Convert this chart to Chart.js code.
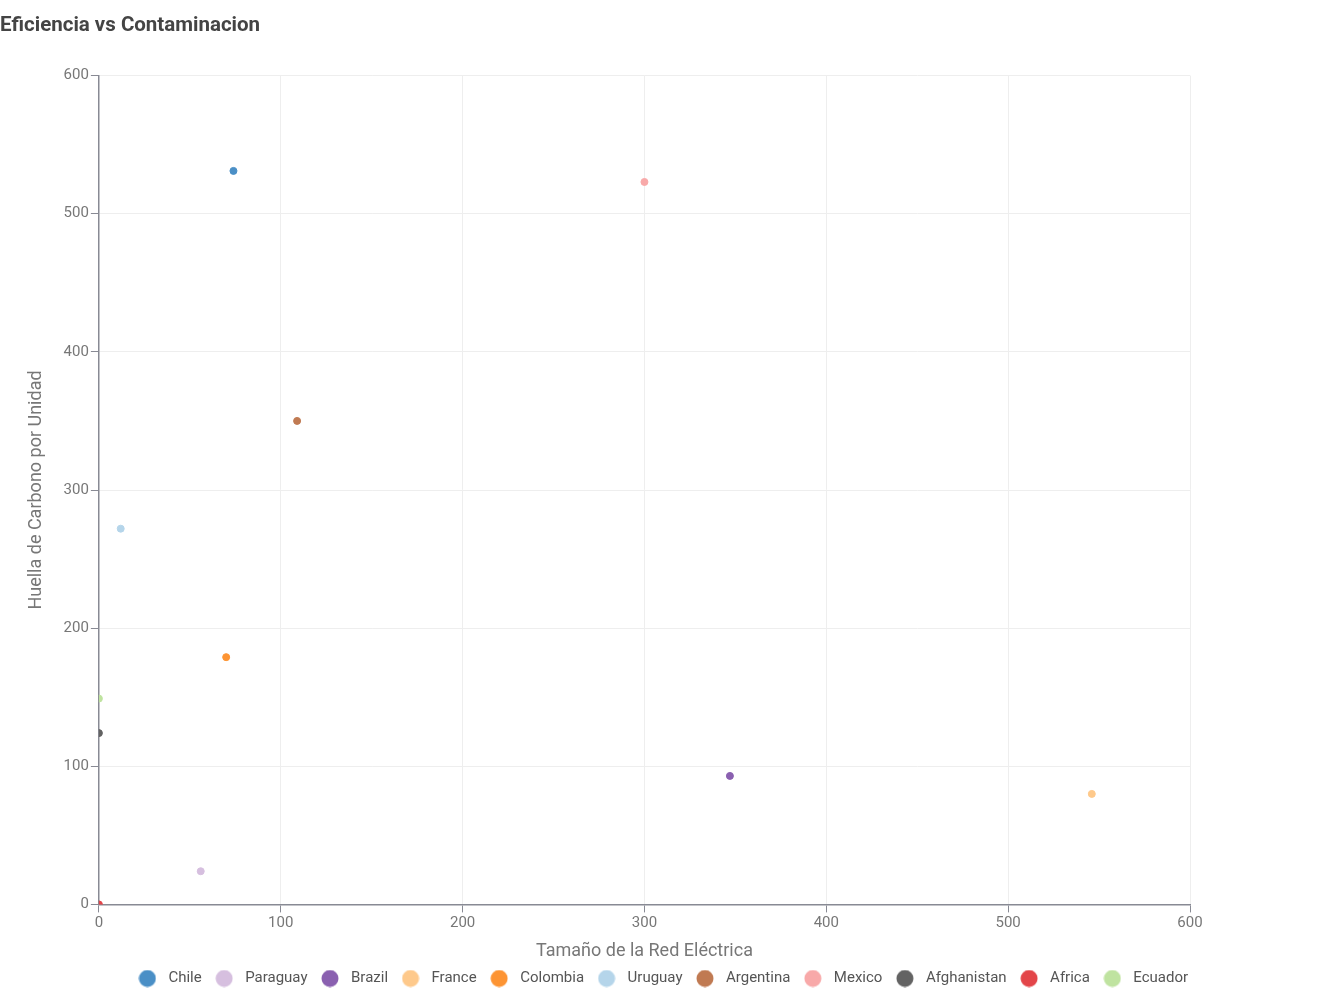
<!DOCTYPE html>
<html>
<head>
<meta charset="utf-8">
<script src="https://cdn.jsdelivr.net/npm/chart.js@4"></script>
<style>
    html, body { margin: 0; padding: 0; background: #fff; }
    #caja { width: 1322px; height: 992px; }
</style>
</head>
<body>
<div id="caja"><canvas id="grafico"></canvas></div>
<script>
const paises = ["Chile", "Paraguay", "Brazil", "France", "Colombia", "Uruguay",
    "Argentina", "Mexico", "Afghanistan", "Africa", "Ecuador"];
const tamanoRed = [74, 56, 347, 546, 70, 12, 109, 300, 0, 0, 0];
const huellaCarbono = [531, 24, 93, 80, 179, 272, 350, 523, 124, 0, 149];
const colores = ["#4a8fc6", "#d6bfdf", "#8a60b0", "#fec98b", "#fd9433", "#b5d5ea",
    "#c07a52", "#f8a9a9", "#636363", "#e34549", "#bfe3a0"];

Chart.defaults.font.family = "Roboto, 'Noto Sans', sans-serif";

// circulito para la leyenda (el pointStyleWidth solo reserva el espacio)
function circulo(color) {
    const c = document.createElement("canvas");
    c.width = 18; c.height = 18;
    const ctx = c.getContext("2d");
    ctx.fillStyle = color;
    ctx.beginPath();
    ctx.arc(9, 9, 8.5, 0, Math.PI * 2);
    ctx.fill();
    return c;
}

const datasets = paises.map((p, i) => ({
    label: p,
    data: [{ x: tamanoRed[i], y: huellaCarbono[i] }],
    backgroundColor: colores[i],
    borderColor: colores[i],
    pointRadius: 3.5,
    pointHoverRadius: 5,
}));

new Chart(document.getElementById("grafico"), {
    type: "scatter",
    data: { datasets },
    options: {
        responsive: true,
        maintainAspectRatio: false,
        animation: false,
        layout: { padding: { left: 0, right: 0, top: 0, bottom: -4 } },
        plugins: {
            title: {
                display: true, text: "Eficiencia vs Contaminacion", align: "start",
                color: "#444", font: { size: 20.5, weight: "bold" },
                padding: { top: 14, bottom: 37 },
            },
            legend: {
                position: "bottom",
                labels: {
                    usePointStyle: true, pointStyleWidth: 27, boxHeight: 15,
                    padding: 9, color: "#555", font: { size: 15 },
                    generateLabels: (chart) => {
                        const base = Chart.defaults.plugins.legend.labels.generateLabels(chart);
                        return base.map((it, i) => ({ ...it, pointStyle: circulo(colores[i]) }));
                    },
                },
            },
            tooltip: { enabled: false },
        },
        scales: {
            x: {
                min: 0, max: 600,
                ticks: { stepSize: 100, color: "#777", font: { size: 15 }, padding: 2 },
                grid: { color: "#eeeeee", tickColor: "#888a94", tickLength: 8 },
                border: { color: "#888a94", width: 1.5 },
                title: { display: true, text: "Tamaño de la Red Eléctrica", color: "#777", font: { size: 18 }, padding: { top: 6, bottom: 0 } },
            },
            y: {
                min: 0, max: 600,
                ticks: { stepSize: 100, color: "#777", font: { size: 15 }, padding: 2 },
                grid: { color: "#eeeeee", tickColor: "#888a94", tickLength: 8 },
                border: { color: "#888a94", width: 1.5 },
                title: { display: true, text: "Huella de Carbono por Unidad", color: "#777", font: { size: 18 }, padding: { top: 26, bottom: 14 } },
            },
            // eje vacio a la derecha, solo deja el margen
            derecha: {
                type: "linear", position: "right",
                grid: { display: false }, border: { display: false },
                ticks: { display: false },
                afterFit: (s) => { s.width = 132; },
            },
        },
    },
});
</script>
</body>
</html>
